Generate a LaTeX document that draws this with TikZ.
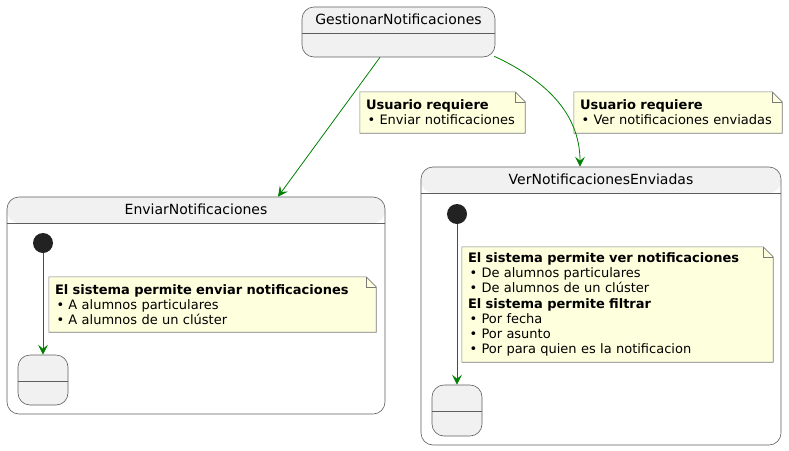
\documentclass[tikz,border=0pt]{standalone}
\usepackage{fontspec}
\setmainfont{DejaVu Sans}
\usepackage{tikz}
\usetikzlibrary{arrows.meta,positioning,calc}

\definecolor{statefill}{HTML}{F1F1F1}
\definecolor{stateline}{HTML}{5E5E5E}
\definecolor{notefill}{HTML}{FEFFDD}
\definecolor{noteline}{HTML}{7A7A7A}
\definecolor{arrgreen}{HTML}{008000}
\definecolor{dotfill}{HTML}{222222}

\newcommand{\titlefont}{\fontsize{14}{16}\selectfont}
\newcommand{\notefont}{\fontsize{13}{15.2}\selectfont}
% outline of a note with its folded corner
\newcommand{\notefold}[1]{%
  \draw[noteline, line width=0.6pt] (#1.north west) -- ([xshift=-10pt]#1.north east) -- ([yshift=-10pt]#1.north east) -- (#1.south east) -- (#1.south west) -- cycle;
  \draw[noteline, line width=0.6pt] ([xshift=-10pt]#1.north east) -- ([xshift=-10pt,yshift=-10pt]#1.north east) -- ([yshift=-10pt]#1.north east);
}

\begin{document}
\begin{tikzpicture}[
    x=1pt, y=-1pt,
    state/.style={rectangle, draw=stateline, fill=statefill, line width=0.6pt, rounded corners=12pt, inner sep=0pt,
      path picture={\draw[stateline, line width=0.6pt] ([yshift=-26pt]path picture bounding box.north west) -- ([yshift=-26pt]path picture bounding box.north east);}},
    compstate/.style={state, fill=white,
      path picture={\fill[statefill] (path picture bounding box.north west) rectangle ([yshift=-26pt]path picture bounding box.north east);
        \draw[stateline, line width=0.6pt] ([yshift=-26pt]path picture bounding box.north west) -- ([yshift=-26pt]path picture bounding box.north east);}},
    title/.style={inner sep=0pt, font=\titlefont},
    start/.style={circle, fill=dotfill, minimum size=20pt, inner sep=0pt},
    note/.style={rectangle, fill=notefill, inner xsep=6pt, inner ysep=0pt, align=left, font=\notefont,
      path picture={\fill[white] ([xshift=-10pt]path picture bounding box.north east) -- (path picture bounding box.north east) -- ([yshift=-10pt]path picture bounding box.north east) -- cycle;}},
    arr/.style={-{Stealth[length=10pt, width=10pt, inset=4pt]}, arrgreen, line width=0.8pt},
]
\useasboundingbox (0,0) rectangle (789,450);
% States
\node[state, minimum width=193pt, minimum height=50pt] (gest) at (398.5,32) {};
\node[title] (gestT) at ([yshift=-13pt]gest.north) {GestionarNotificaciones};
\node[compstate, minimum width=378pt, minimum height=217pt] (enviar) at (196,305.5) {};
\node[title] (enviarT) at ([yshift=-13pt]enviar.north) {EnviarNotificaciones};
\node[compstate, minimum width=360pt, minimum height=278pt] (ver) at (601,306) {};
\node[title] (verT) at ([yshift=-13pt]ver.north) {VerNotificacionesEnviadas};
% Inner states
\node[start] (envStart) at (43,243) {};
\node[state, minimum width=50pt, minimum height=50pt] (envEnd) at (43,380) {};
\node[start] (verStart) at (457,214) {};
\node[state, minimum width=50pt, minimum height=51pt] (verEnd) at (457,410.5) {};
% Notes
\node[note, text width=153pt, minimum height=41pt] (noteEnviar) at (442.5,112.5)
  {\textbf{Usuario requiere}\\\hspace{1.5pt}•~Enviar notificaciones};
\node[note, text width=196pt, minimum height=41pt] (noteVer) at (678,112.5)
  {\textbf{Usuario requiere}\\\hspace{1.5pt}•~Ver notificaciones enviadas};
\node[note, text width=315pt, minimum height=55pt] (envNote) at (212.5,304.5)
  {\textbf{El sistema permite enviar notificaciones}\\\hspace{1.5pt}•~A alumnos particulares\\\hspace{1.5pt}•~A alumnos de un clúster};
\node[note, text width=299pt, minimum height=115pt] (verNote) at (617.5,304.5)
  {\textbf{El sistema permite ver notificaciones}\\\hspace{1.5pt}•~De alumnos particulares\\\hspace{1.5pt}•~De alumnos de un clúster\\
   \textbf{El sistema permite filtrar}\\\hspace{1.5pt}•~Por fecha\\\hspace{1.5pt}•~Por asunto\\\hspace{1.5pt}•~Por para quien es la notificacion};
\notefold{noteEnviar}
\notefold{noteVer}
\notefold{envNote}
\notefold{verNote}
% Connections
\draw[arr] ([xshift=-18.5pt]gest.south) -- ([xshift=82pt]enviar.north);
\draw[arr] ([xshift=-1pt,yshift=1pt]gest.south east) to[out=-25, in=90] ([xshift=-21pt]ver.north);
\draw[arr] (envStart) -- (envStart |- envEnd.north);
\draw[arr] (verStart) -- (verStart |- verEnd.north);
\end{tikzpicture}
\end{document}
